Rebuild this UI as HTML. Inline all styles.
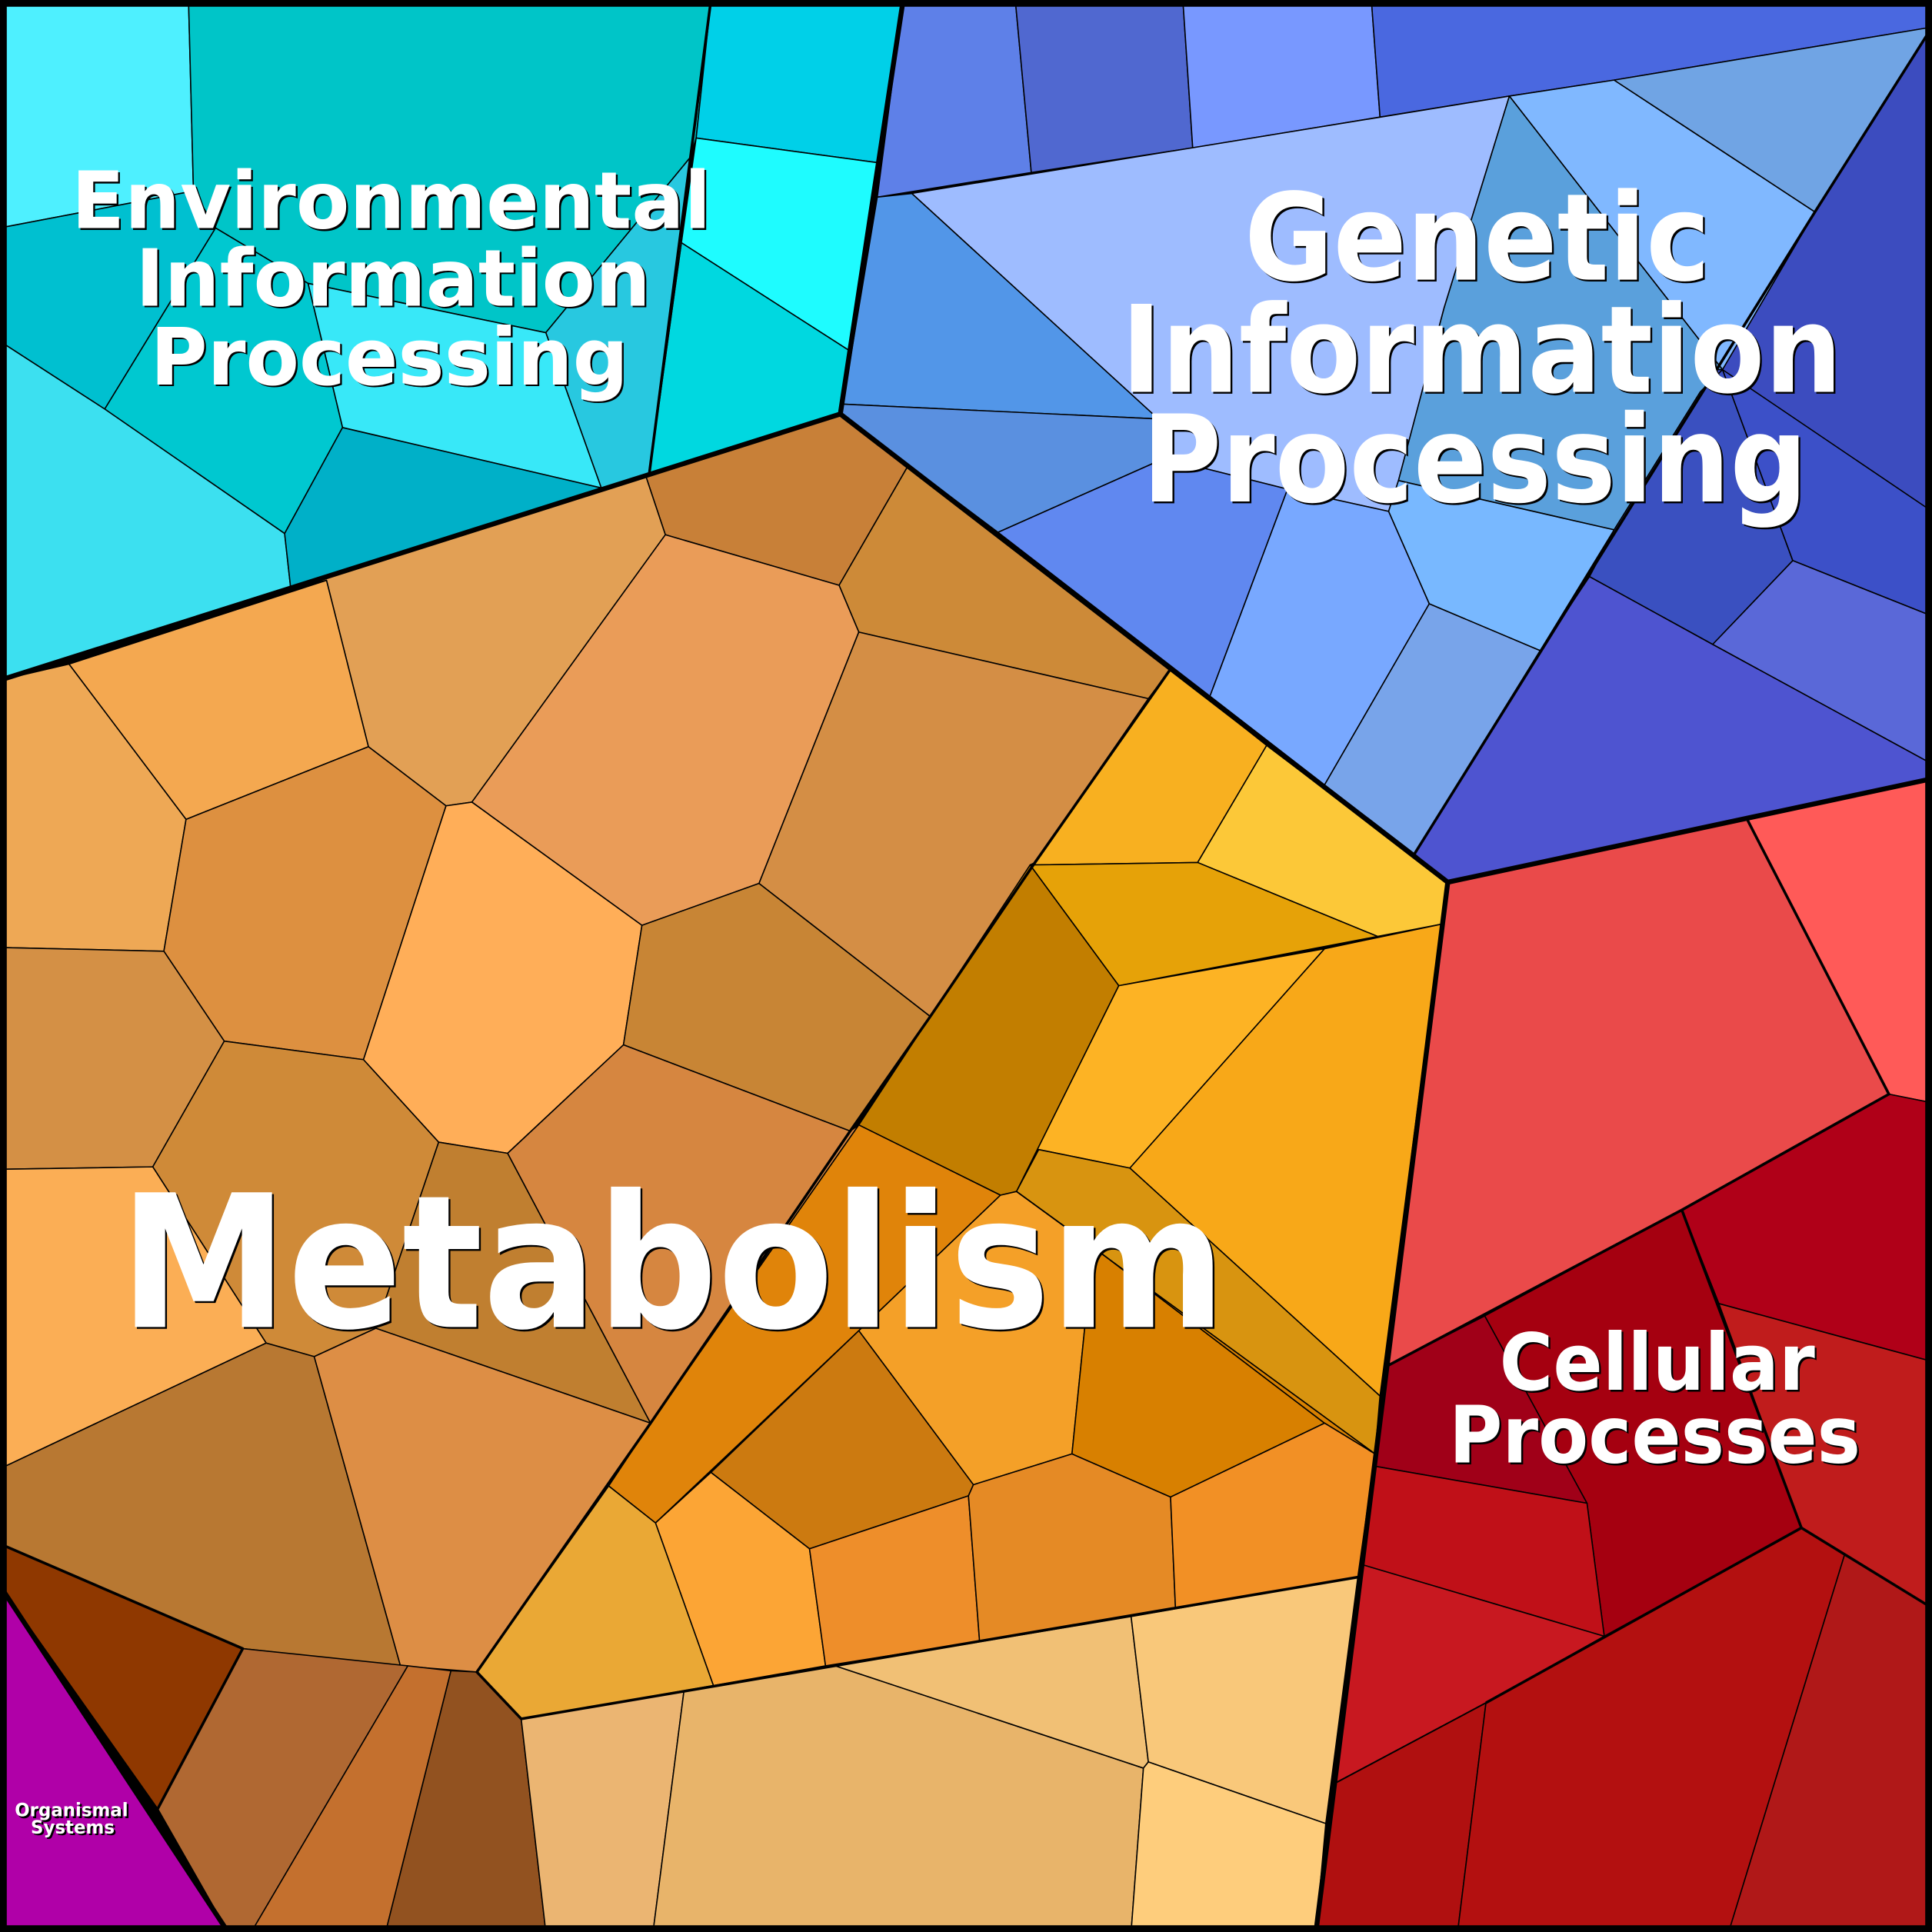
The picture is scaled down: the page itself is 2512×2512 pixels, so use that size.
<!DOCTYPE html>
<html><head><meta charset="utf-8"><style>
html,body{margin:0;padding:0;background:#000}
svg{display:block}
.t{font-family:"DejaVu Sans","Liberation Sans",sans-serif;font-weight:bold;fill:#fff;text-anchor:start}
</style></head><body>
<svg width="2512" height="2512" viewBox="0 0 1568 1568" xmlns="http://www.w3.org/2000/svg">
<g stroke="#000" stroke-width="1" stroke-linejoin="round">
<polygon fill="#4ef0ff" points="0,0 153,0 157,155 0,185"/>
<polygon fill="#00c5c8" points="153,0 577,0 565,112 560,128 443,270 250,230 175,185 157,155"/>
<polygon fill="#00d0e8" points="577,0 733,0 712,132 565,112"/>
<polygon fill="#1efcff" points="565,112 712,132 690,285 553,197"/>
<polygon fill="#00d8e0" points="553,197 690,285 682,336 527,384"/>
<polygon fill="#28c8e0" points="560,128 553,197 527,384 488,396 443,270"/>
<polygon fill="#38e8f8" points="250,230 443,270 488,396 278,347"/>
<polygon fill="#00c0d0" points="0,185 157,155 175,185 85,332 0,277"/>
<polygon fill="#00c8d0" points="85,332 175,185 250,230 278,347 231,433"/>
<polygon fill="#3ce0f0" points="0,277 85,332 231,433 236,478 0,552"/>
<polygon fill="#00b0c8" points="231,433 278,347 488,396 236,478"/>
<polygon fill="#5e80e8" points="733,0 824,0 837,140 712,160"/>
<polygon fill="#5068d0" points="824,0 960,0 968,120 837,140"/>
<polygon fill="#7898ff" points="960,0 1113,0 1120,95 968,120"/>
<polygon fill="#4a68e0" points="1113,0 1568,0 1568,22 1310,65 1225,78 1120,95"/>
<polygon fill="#9ebcff" points="740,157 1225,78 1172,250 1135,390 1127,415 1045,397 945,372 940,340"/>
<polygon fill="#5296e8" points="712,160 740,157 940,340 684,328"/>
<polygon fill="#5a90e0" points="684,328 940,340 945,372 810,432 682,336"/>
<polygon fill="#6088f0" points="810,432 945,372 1045,397 982,565"/>
<polygon fill="#78a8ff" points="1045,397 1127,415 1160,490 1075,637 982,565"/>
<polygon fill="#78a4ea" points="1160,490 1250,528 1148,693 1075,637"/>
<polygon fill="#80b8ff" points="1225,78 1310,65 1473,172 1398,300"/>
<polygon fill="#5aa0dc" points="1225,78 1398,300 1380,318 1310,430 1135,390 1172,250"/>
<polygon fill="#78b8ff" points="1127,415 1135,390 1310,430 1250,528 1160,490"/>
<polygon fill="#70a4e4" points="1310,65 1568,22 1473,172"/>
<polygon fill="#3c4cbf" points="1473,172 1568,22 1568,415 1380,300 1398,300"/>
<polygon fill="#3a50c0" points="1380,318 1398,300 1455,455 1390,523 1290,468 1310,430"/>
<polygon fill="#3c50c8" points="1398,300 1568,415 1568,500 1455,455"/>
<polygon fill="#5a68d8" points="1455,455 1568,500 1568,620 1390,523"/>
<polygon fill="#4e54d0" points="1290,468 1390,523 1568,620 1568,632 1175,716 1148,693 1250,528"/>
<polygon fill="#c88038" points="524,386 682,336 737,378 681,475 540,434"/>
<polygon fill="#cd8a38" points="681,475 737,378 950,543 932,567 697,513"/>
<polygon fill="#e2a055" points="236,478 524,386 540,434 383,651 362,654 299,606 265,471"/>
<polygon fill="#ea9c58" points="383,651 540,434 681,475 697,513 616,717 521,751"/>
<polygon fill="#d48e45" points="616,717 697,513 932,567 840,700 755,825"/>
<polygon fill="#f4a850" points="56,539 265,471 299,606 151,665"/>
<polygon fill="#eea855" points="0,552 56,539 151,665 133,772 0,769"/>
<polygon fill="#dd9040" points="151,665 299,606 362,654 295,860 182,845 133,772"/>
<polygon fill="#ffae58" points="295,860 362,654 383,651 521,751 506,848 412,936 356,927"/>
<polygon fill="#c88535" points="506,848 521,751 616,717 755,825 690,918"/>
<polygon fill="#d49045" points="0,769 133,772 182,845 124,947 0,949"/>
<polygon fill="#cf8a38" points="124,947 182,845 295,860 356,927 305,1078 255,1101 216,1090"/>
<polygon fill="#c07f30" points="305,1078 356,927 412,936 528,1155"/>
<polygon fill="#d68640" points="412,936 506,848 690,918 697,913 528,1155"/>
<polygon fill="#fbae55" points="0,949 124,947 216,1090 0,1192"/>
<polygon fill="#b87832" points="0,1192 216,1090 255,1101 325,1352 197,1338 0,1253"/>
<polygon fill="#dd8e45" points="255,1101 305,1078 528,1155 387,1357 325,1352"/>
<polygon fill="#8f3800" points="0,1253 197,1338 128,1468 0,1287"/>
<polygon fill="#b06832" points="197,1338 331,1352 204,1568 185,1568 128,1468"/>
<polygon fill="#c4702e" points="331,1352 366,1356 313,1568 204,1568"/>
<polygon fill="#925220" points="366,1356 387,1357 423,1395 443,1568 313,1568"/>
<polygon fill="#f8b020" points="840,700 950,543 1028,605 972,700 836,702"/>
<polygon fill="#fcc838" points="972,700 1028,605 1175,716 1170,750 1118,760"/>
<polygon fill="#e6a208" points="836,702 972,700 1118,760 908,800"/>
<polygon fill="#c27e00" points="697,913 755,825 836,702 908,800 825,967 812,970"/>
<polygon fill="#fdb324" points="825,967 908,800 1075,770 917,948 843,933"/>
<polygon fill="#f8a818" points="917,948 1075,770 1170,750 1120,1133"/>
<polygon fill="#d89410" points="825,967 843,933 917,948 1120,1133 1116,1180"/>
<polygon fill="#e0840a" points="697,913 812,970 697,1080 532,1236 494,1206 528,1155"/>
<polygon fill="#f4a028" points="812,970 825,967 887,1012 870,1180 790,1205 697,1080"/>
<polygon fill="#d88000" points="887,1012 1075,1155 950,1215 870,1180"/>
<polygon fill="#d88000" points="825,967 1116,1180 1075,1155 887,1012"/>
<polygon fill="#cc7a10" points="697,1080 790,1205 786,1214 657,1257 577,1195"/>
<polygon fill="#fca535" points="532,1236 577,1195 657,1257 670,1352 579,1368"/>
<polygon fill="#ee8e2a" points="657,1257 786,1214 795,1332 670,1352"/>
<polygon fill="#e58a25" points="786,1214 790,1205 870,1180 950,1215 954,1305 795,1332"/>
<polygon fill="#f29025" points="950,1215 1075,1155 1116,1180 1102,1280 954,1305"/>
<polygon fill="#eaa835" points="387,1357 494,1206 532,1236 579,1368 423,1395"/>
<polygon fill="#ebb572" points="423,1395 555,1373 530,1568 443,1568"/>
<polygon fill="#e8b46a" points="555,1373 678,1352 928,1435 918,1568 530,1568"/>
<polygon fill="#f1c075" points="678,1352 918,1312 932,1430 928,1435"/>
<polygon fill="#f9c87a" points="918,1312 1102,1280 1076,1480 932,1430"/>
<polygon fill="#fecd7c" points="932,1430 1076,1480 1068,1568 918,1568 928,1435"/>
<polygon fill="#b000a8" points="0,1287 185,1568 0,1568"/>
<polygon fill="#ea4a4a" points="1175,716 1418,665 1533,888 1365,982 1205,1068 1127,1108"/>
<polygon fill="#ff5a58" points="1418,665 1568,632 1568,895 1533,888"/>
<polygon fill="#b00018" points="1365,982 1533,888 1568,895 1568,1105 1395,1058"/>
<polygon fill="#a50010" points="1205,1068 1365,982 1395,1058 1462,1240 1302,1328 1288,1220"/>
<polygon fill="#a00018" points="1127,1108 1205,1068 1288,1220 1116,1190"/>
<polygon fill="#c01c1c" points="1395,1058 1568,1105 1568,1305 1462,1240"/>
<polygon fill="#c01018" points="1116,1190 1288,1220 1302,1328 1106,1270"/>
<polygon fill="#c81820" points="1106,1270 1302,1328 1206,1382 1084,1447"/>
<polygon fill="#b01010" points="1084,1447 1206,1382 1183,1568 1068,1568"/>
<polygon fill="#b31010" points="1206,1382 1302,1328 1462,1240 1497,1262 1403,1568 1183,1568"/>
<polygon fill="#b01818" points="1497,1262 1568,1305 1568,1568 1403,1568"/>
</g>
<g fill="none" stroke="#000" stroke-width="2.2" stroke-linejoin="round">
<polyline points="577,0 527,384"/>
<polyline points="950,543 840,700 755,825 690,918 528,1155 387,1357 423,1395 1102,1280"/>
<polyline points="1148,693 1473,172 1568,22"/>
<polyline points="1127,1108 1365,982 1533,888 1418,665"/>
<polyline points="1365,982 1462,1240"/>
<polyline points="1206,1382 1462,1240 1568,1305"/>
<polyline points="1084,1447 1206,1382" stroke-width="1.2"/>
<polyline points="0,1253 197,1338 128,1468"/>
</g>
<g fill="none" stroke="#000" stroke-width="4" stroke-linejoin="round">
<polyline points="733,0 682,336 0,552"/>
<polyline points="682,336 1175,716 1568,632"/>
<polyline points="1175,716 1068,1568"/>
<polyline points="0,1287 185,1568"/>
<rect x="2.5" y="2.5" width="1563" height="1563" stroke-width="6"/>
</g>
<g class="t">
<g transform="translate(1.5,1.5)" style="fill:#000">
<text x="58" y="185" font-size="64" textLength="519" lengthAdjust="spacingAndGlyphs">Environmental</text>
<text x="110" y="248" font-size="64" textLength="418" lengthAdjust="spacingAndGlyphs">Information</text>
<text x="122" y="312" font-size="64" textLength="388" lengthAdjust="spacingAndGlyphs">Processing</text>
<text x="1010" y="227" font-size="98" textLength="378" lengthAdjust="spacingAndGlyphs">Genetic</text>
<text x="910" y="318" font-size="98" textLength="585" lengthAdjust="spacingAndGlyphs">Information</text>
<text x="927" y="407" font-size="98" textLength="540" lengthAdjust="spacingAndGlyphs">Processing</text>
<text x="97" y="1077" font-size="150" textLength="898" lengthAdjust="spacingAndGlyphs">Metabolism</text>
<text x="1217" y="1128" font-size="64" textLength="256" lengthAdjust="spacingAndGlyphs">Cellular</text>
<text x="1176" y="1187" font-size="64" textLength="334" lengthAdjust="spacingAndGlyphs">Processes</text>
<text x="12" y="1474" font-size="15" textLength="92" lengthAdjust="spacingAndGlyphs">Organismal</text>
<text x="25" y="1488" font-size="15" textLength="68" lengthAdjust="spacingAndGlyphs">Systems</text>
</g>
<g style="fill:#fff">
<text x="58" y="185" font-size="64" textLength="519" lengthAdjust="spacingAndGlyphs">Environmental</text>
<text x="110" y="248" font-size="64" textLength="418" lengthAdjust="spacingAndGlyphs">Information</text>
<text x="122" y="312" font-size="64" textLength="388" lengthAdjust="spacingAndGlyphs">Processing</text>
<text x="1010" y="227" font-size="98" textLength="378" lengthAdjust="spacingAndGlyphs">Genetic</text>
<text x="910" y="318" font-size="98" textLength="585" lengthAdjust="spacingAndGlyphs">Information</text>
<text x="927" y="407" font-size="98" textLength="540" lengthAdjust="spacingAndGlyphs">Processing</text>
<text x="97" y="1077" font-size="150" textLength="898" lengthAdjust="spacingAndGlyphs">Metabolism</text>
<text x="1217" y="1128" font-size="64" textLength="256" lengthAdjust="spacingAndGlyphs">Cellular</text>
<text x="1176" y="1187" font-size="64" textLength="334" lengthAdjust="spacingAndGlyphs">Processes</text>
<text x="12" y="1474" font-size="15" textLength="92" lengthAdjust="spacingAndGlyphs">Organismal</text>
<text x="25" y="1488" font-size="15" textLength="68" lengthAdjust="spacingAndGlyphs">Systems</text>
</g>
</g>
</svg>
</body></html>
